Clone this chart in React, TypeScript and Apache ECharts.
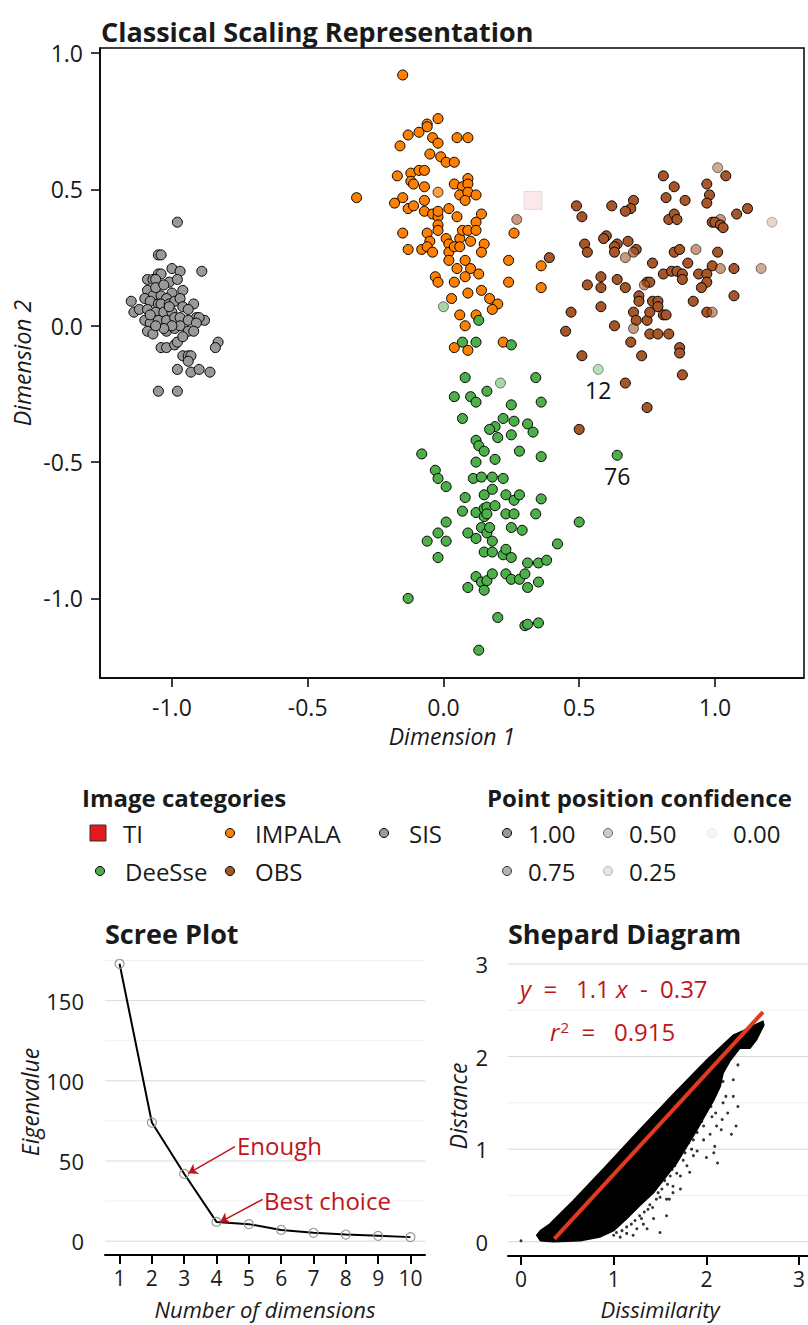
import React, { useEffect, useRef } from "react";
import * as echarts from "echarts";

const FONT = "'Open Sans', 'Noto Sans', 'DejaVu Sans', sans-serif";
const TXT = "#1a1a1a";
const RED_TXT = "#c0141c";

// ---------- Classical scaling: [dim1, dim2, confidence] ----------
const tiPoints: number[][] = [[0.33, 0.46, 0.1]];

const sisPoints: number[][] = [
  [-1.05, 0.26, 1], [-1.04, 0.26, 1], [-1.0, 0.21, 1], [-0.97, 0.2, 1], [-0.89, 0.2, 1], [-1.05, 0.19, 1],
  [-1.04, 0.19, 1], [-1.09, 0.17, 1], [-1.07, 0.17, 1], [-1.06, 0.17, 1], [-1.01, 0.16, 1], [-0.98, 0.17, 1],
  [-0.96, 0.13, 1], [-1.09, 0.13, 1], [-1.07, 0.11, 1], [-1.04, 0.11, 1], [-1.0, 0.12, 1], [-1.02, 0.1, 1],
  [-1.15, 0.09, 1], [-1.1, 0.1, 1], [-1.08, 0.09, 1], [-1.05, 0.08, 1], [-1.04, 0.08, 1], [-1.01, 0.08, 1],
  [-0.99, 0.09, 1], [-0.97, 0.1, 1], [-0.92, 0.08, 1], [-1.14, 0.05, 1], [-1.12, 0.06, 1], [-1.09, 0.06, 1],
  [-1.06, 0.05, 1], [-1.03, 0.05, 1], [-1.0, 0.05, 1], [-0.96, 0.07, 1], [-0.94, 0.06, 1], [-0.91, 0.03, 1],
  [-0.88, 0.02, 1], [-0.9, 0.03, 1], [-1.1, 0.02, 1], [-1.08, 0.01, 1], [-1.05, 0.02, 1], [-1.02, 0.02, 1],
  [-0.99, 0.03, 1], [-0.97, 0.03, 1], [-0.94, 0.02, 1], [-0.91, 0.01, 1], [-1.09, -0.02, 1], [-1.07, -0.03, 1],
  [-1.02, -0.02, 1], [-0.99, -0.01, 1], [-0.97, 0.0, 1], [-0.94, -0.02, 1], [-0.92, -0.02, 1], [-1.04, -0.08, 1],
  [-1.02, -0.08, 1], [-0.99, -0.07, 1], [-0.98, -0.06, 1], [-0.96, -0.11, 1], [-0.94, -0.11, 1], [-0.93, -0.11, 1],
  [-0.94, -0.13, 1], [-0.83, -0.06, 1], [-0.84, -0.08, 1], [-0.98, -0.16, 1], [-0.93, -0.17, 1], [-0.9, -0.16, 1],
  [-0.86, -0.17, 1], [-1.05, -0.24, 1], [-0.98, -0.24, 1], [-0.98, 0.38, 1], [-1.06, 0.14, 1], [-1.03, 0.15, 1],
  [-1.01, 0.07, 1], [-1.0, 0.0, 1], [-1.03, -0.01, 1], [-0.96, -0.04, 1], [-1.06, 0.0, 1], [-1.08, 0.04, 1],
];

const impalaPoints: number[][] = [
  [-0.15, 0.92, 1], [-0.06, 0.74, 1], [-0.06, 0.73, 1], [-0.02, 0.76, 1], [-0.09, 0.71, 1], [-0.13, 0.7, 1],
  [-0.16, 0.66, 1], [-0.04, 0.69, 1], [-0.02, 0.67, 1], [0.05, 0.69, 1], [0.09, 0.69, 1], [-0.05, 0.63, 1],
  [-0.01, 0.62, 1], [0.01, 0.6, 1], [0.04, 0.6, 1], [-0.17, 0.55, 1], [-0.12, 0.56, 1], [-0.09, 0.57, 1],
  [-0.07, 0.57, 1], [-0.12, 0.53, 1], [-0.11, 0.52, 1], [-0.07, 0.51, 1], [-0.02, 0.49, 0.75], [0.04, 0.52, 1],
  [0.07, 0.51, 1], [0.09, 0.54, 1], [0.09, 0.52, 1], [0.06, 0.48, 1], [0.09, 0.49, 1], [0.12, 0.48, 1],
  [0.08, 0.46, 1], [-0.18, 0.45, 1], [-0.15, 0.47, 1], [-0.13, 0.43, 1], [-0.11, 0.44, 1], [-0.07, 0.46, 1],
  [-0.07, 0.42, 1], [-0.04, 0.41, 1], [-0.02, 0.4, 1], [-0.02, 0.42, 1], [0.02, 0.43, 1], [0.05, 0.4, 1],
  [0.14, 0.41, 1], [-0.02, 0.37, 1], [-0.02, 0.35, 1], [0.01, 0.32, 1], [0.02, 0.3, 1], [0.06, 0.32, 1],
  [0.07, 0.35, 1], [0.09, 0.35, 1], [0.12, 0.38, 1], [0.12, 0.35, 1], [0.1, 0.31, 1], [0.15, 0.3, 1],
  [0.14, 0.27, 1], [-0.15, 0.34, 1], [-0.06, 0.34, 1], [-0.05, 0.31, 1], [-0.13, 0.28, 1], [-0.08, 0.28, 1],
  [-0.06, 0.29, 1], [-0.04, 0.27, 1], [0.02, 0.27, 1], [0.04, 0.29, 1], [0.06, 0.29, 1], [0.02, 0.24, 1],
  [0.08, 0.24, 1], [0.05, 0.21, 1], [0.1, 0.21, 1], [0.13, 0.19, 1], [-0.03, 0.18, 1], [-0.02, 0.16, 1],
  [0.04, 0.16, 1], [0.08, 0.18, 1], [0.24, 0.24, 1], [0.24, 0.16, 1], [0.26, 0.34, 1], [0.36, 0.22, 1],
  [0.36, 0.14, 1], [0.03, 0.1, 1], [0.09, 0.12, 1], [0.14, 0.13, 1], [0.17, 0.1, 1], [0.2, 0.08, 1],
  [0.18, 0.06, 1], [0.06, 0.04, 1], [0.12, 0.04, 1], [0.08, 0.0, 1], [0.04, -0.08, 1], [0.09, -0.09, 1],
  [0.22, -0.06, 1], [-0.32, 0.47, 1],
];

const obsPoints: number[][] = [
  [1.01, 0.58, 0.5], [1.04, 0.55, 1], [0.81, 0.55, 1], [0.85, 0.51, 1], [0.97, 0.52, 1], [0.98, 0.48, 1],
  [0.82, 0.47, 1], [0.89, 0.46, 1], [0.97, 0.45, 1], [1.12, 0.43, 1], [1.08, 0.41, 1], [1.21, 0.38, 0.25],
  [0.7, 0.46, 1], [0.69, 0.43, 1], [0.67, 0.42, 1], [0.62, 0.44, 1], [0.49, 0.44, 1], [0.51, 0.4, 1],
  [0.83, 0.39, 1], [0.85, 0.41, 1], [0.86, 0.39, 1], [0.99, 0.38, 1], [1.02, 0.39, 0.6], [1.0, 0.38, 1],
  [1.02, 0.37, 1], [1.03, 0.36, 1], [0.6, 0.33, 1], [0.59, 0.32, 1], [0.64, 0.3, 1], [0.68, 0.31, 1],
  [0.63, 0.29, 1], [0.63, 0.27, 1], [0.71, 0.28, 1], [0.7, 0.27, 0.7], [0.52, 0.3, 1], [0.53, 0.27, 1],
  [0.39, 0.25, 1], [0.27, 0.39, 0.6], [0.67, 0.25, 0.6], [0.77, 0.23, 1], [0.85, 0.27, 1], [0.87, 0.28, 1],
  [0.93, 0.28, 0.6], [1.01, 0.27, 1], [0.9, 0.23, 1], [0.99, 0.22, 1], [1.02, 0.21, 0.6], [1.07, 0.21, 1],
  [1.17, 0.21, 0.5], [0.58, 0.18, 1], [0.58, 0.14, 1], [0.53, 0.15, 1], [0.64, 0.17, 1], [0.67, 0.14, 1],
  [0.75, 0.16, 1], [0.76, 0.16, 1], [0.74, 0.15, 0.6], [0.81, 0.19, 1], [0.84, 0.2, 1], [0.86, 0.2, 1],
  [0.88, 0.19, 1], [0.88, 0.17, 1], [0.94, 0.19, 1], [0.97, 0.19, 1], [0.97, 0.16, 1], [0.95, 0.14, 1],
  [1.07, 0.11, 1], [0.92, 0.09, 1], [0.97, 0.05, 1], [0.99, 0.05, 0.6], [0.58, 0.07, 1], [0.47, 0.05, 1],
  [0.45, -0.02, 1], [0.63, 0.0, 1], [0.72, 0.11, 1], [0.72, 0.09, 1], [0.7, 0.05, 1], [0.71, 0.02, 1],
  [0.75, 0.02, 1], [0.76, 0.05, 1], [0.77, 0.09, 1], [0.79, 0.09, 1], [0.79, 0.07, 1], [0.81, 0.04, 1],
  [0.82, 0.04, 1], [0.7, -0.01, 0.6], [0.76, -0.03, 1], [0.79, -0.03, 1], [0.83, -0.03, 1], [0.69, -0.06, 1],
  [0.73, -0.11, 1], [0.51, -0.11, 1], [0.87, -0.08, 1], [0.87, -0.1, 1], [0.88, -0.18, 1], [0.67, -0.21, 1],
  [0.75, -0.3, 1], [0.5, -0.38, 1],
];

const deessePoints: number[][] = [
  [0.0, 0.07, 0.5], [0.13, 0.02, 1], [0.07, -0.06, 1], [0.12, -0.06, 1], [0.25, -0.07, 1], [0.57, -0.16, 0.4],
  [0.08, -0.19, 1], [0.21, -0.21, 0.5], [0.34, -0.19, 1], [0.16, -0.24, 1], [0.04, -0.26, 1], [0.1, -0.26, 1],
  [0.12, -0.28, 1], [0.25, -0.29, 1], [0.36, -0.28, 1], [0.07, -0.34, 1], [0.22, -0.34, 1], [0.26, -0.35, 1],
  [0.31, -0.36, 1], [0.33, -0.39, 1], [0.19, -0.37, 1], [0.17, -0.38, 1], [0.25, -0.4, 1], [0.2, -0.41, 1],
  [0.12, -0.42, 1], [0.13, -0.44, 1], [0.15, -0.46, 1], [0.28, -0.46, 1], [0.19, -0.49, 1], [0.12, -0.5, 1],
  [0.36, -0.48, 1], [-0.08, -0.47, 1], [0.64, -0.475, 1], [-0.03, -0.53, 1], [-0.02, -0.56, 1], [0.01, -0.59, 1],
  [0.11, -0.56, 1], [0.14, -0.555, 1], [0.18, -0.555, 1], [0.22, -0.56, 1], [0.08, -0.63, 1], [0.15, -0.62, 1],
  [0.18, -0.6, 1], [0.23, -0.62, 1], [0.26, -0.64, 1], [0.28, -0.62, 1], [0.36, -0.635, 1], [0.07, -0.68, 1],
  [0.12, -0.685, 1], [0.15, -0.67, 1], [0.16, -0.665, 1], [0.15, -0.7, 1], [0.16, -0.69, 1], [0.19, -0.66, 1],
  [0.23, -0.69, 1], [0.26, -0.69, 1], [0.34, -0.69, 1], [0.5, -0.72, 1], [0.01, -0.72, 1], [-0.02, -0.76, 1],
  [-0.06, -0.79, 1], [0.01, -0.79, 1], [0.09, -0.76, 1], [0.12, -0.78, 1], [0.14, -0.74, 1], [0.16, -0.76, 1],
  [0.17, -0.74, 1], [0.18, -0.79, 1], [0.25, -0.74, 1], [0.29, -0.75, 1], [0.42, -0.8, 1], [-0.02, -0.85, 1],
  [0.15, -0.83, 1], [0.18, -0.83, 1], [0.22, -0.84, 1], [0.23, -0.82, 1], [0.25, -0.85, 1], [0.31, -0.87, 1],
  [0.35, -0.87, 1], [0.38, -0.86, 1], [0.12, -0.92, 1], [0.14, -0.94, 1], [0.16, -0.935, 1], [0.18, -0.91, 1],
  [0.23, -0.91, 1], [0.25, -0.93, 1], [0.28, -0.93, 1], [0.3, -0.91, 1], [0.09, -0.96, 1], [0.15, -0.97, 1],
  [0.31, -0.96, 1], [0.35, -0.94, 1], [-0.13, -1.0, 1], [0.2, -1.07, 1], [0.3, -1.1, 1], [0.31, -1.095, 1],
  [0.35, -1.09, 1], [0.13, -1.19, 1],
];

const pointLabels = [
  { label: "12", x: 0.57, y: -0.16 },
  { label: "76", x: 0.64, y: -0.475 },
];

const mainTicks = [-1, -0.5, 0, 0.5, 1];

// ---------- Scree plot ----------
const screeDims = [1, 2, 3, 4, 5, 6, 7, 8, 9, 10];
const screeEigen = [173, 74, 42, 12, 10.6, 7, 5.2, 4.1, 3.3, 2.5];
const screeMajor = [0, 50, 100, 150];
const screeMinor = [25, 75, 125, 175];
const screeNotes = [
  { text: "Enough", from: [4.57, 58.9], to: [3.13, 42.3] },
  { text: "Best choice", from: [5.43, 26.1], to: [4.11, 11.9] },
];

// ---------- Shepard diagram ----------
const shepardCloud: number[][] = [
  [0.17, 0.07], [0.21, 0.12], [0.31, 0.19], [0.56, 0.44], [0.92, 0.82], [1.28, 1.21], [1.64, 1.59], [2.0, 1.96],
  [2.29, 2.23], [2.4, 2.28], [2.54, 2.35], [2.61, 2.38], [2.62, 2.34], [2.54, 2.18], [2.47, 2.09], [2.36, 2.09],
  [2.26, 1.96], [2.18, 1.82], [2.15, 1.68], [2.08, 1.53], [2.0, 1.39], [1.9, 1.21], [1.79, 1.03], [1.68, 0.85],
  [1.57, 0.71], [1.43, 0.53], [1.28, 0.39], [1.14, 0.25], [1.0, 0.12], [0.85, 0.05], [0.64, 0.01], [0.35, 0.0],
  [0.21, 0.01],
];
const shepardOutliers: number[][] = [
  [0.0, 0.01], [2.34, 1.91], [2.29, 1.75], [2.21, 1.57], [2.18, 1.73], [2.34, 1.46], [2.32, 1.25], [2.27, 1.16],
  [2.12, 0.85], [2.09, 1.03], [2.0, 0.91], [2.04, 1.16], [1.9, 0.98], [1.79, 0.82], [1.72, 0.71], [1.64, 0.6],
  [1.57, 0.46], [1.5, 0.1], [1.43, 0.25], [1.32, 0.19], [1.25, 0.14], [1.14, 0.09], [1.07, 0.05], [2.23, 1.39],
  [2.17, 1.32], [2.11, 1.25], [2.29, 1.57], [2.06, 1.35], [1.97, 1.1], [1.86, 0.93], [2.38, 2.21],
  [1.86, 1.1], [1.77, 0.96], [1.66, 0.82], [1.61, 0.71], [1.52, 0.57], [1.46, 0.46], [1.37, 0.35], [1.28, 0.28],
  [1.19, 0.19], [1.09, 0.12], [1.0, 0.07], [1.93, 1.35], [2.0, 1.53], [2.08, 1.68], [2.15, 1.82], [2.22, 1.93],
  [2.05, 1.46], [1.9, 1.18], [1.81, 1.07], [1.72, 0.93], [1.63, 0.78], [1.55, 0.66], [1.48, 0.53], [1.39, 0.4],
  [1.33, 0.32], [1.23, 0.23], [1.14, 0.16], [1.03, 0.1], [1.97, 1.25], [2.1, 1.39], [2.18, 1.5], [2.16, 1.21],
  [2.08, 0.96], [1.6, 0.46], [1.64, 0.53], [1.72, 0.57], [1.82, 0.75], [1.57, 0.28], [1.36, 0.14], [1.21, 0.07],
  [1.95, 1.3], [1.84, 1.0], [1.75, 0.88], [1.68, 0.74], [1.58, 0.62], [1.5, 0.48], [1.42, 0.37], [1.3, 0.25],
];
const fitLine: number[][] = [[0.36, 0.03], [2.61, 2.48]];
const shepardMajor = [0, 1, 2, 3];
const shepardMinor = [0.5, 1.5, 2.5];

// ---------- Legends ----------
const categoryColors: Record<string, string> = {
  TI: "#E41A1C", IMPALA: "#FF7F00", SIS: "#999999", DeeSse: "#4DAF4A", OBS: "#A65628",
};
const confidenceLevels = [
  { label: "1.00", alpha: 1 }, { label: "0.50", alpha: 0.5 }, { label: "0.00", alpha: 0.08 },
  { label: "0.75", alpha: 0.75 }, { label: "0.25", alpha: 0.25 },
];

function text(t: string, x: number, y: number, o: any = {}) {
  const align = o.align || "left";
  return {
    type: "text", x, y, rotation: o.rot || 0, silent: true, z: 50,
    style: {
      text: t, fontSize: o.size || 24, fontFamily: FONT,
      fontWeight: o.bold ? "bold" : "normal", fontStyle: o.italic ? "italic" : "normal",
      fill: o.color || TXT, align, textAlign: align, verticalAlign: "middle", textVerticalAlign: "middle",
      rich: o.rich,
    },
  };
}

function scatterSeries(pts: number[][], color: string, z: number, symbol = "circle", size = 10) {
  return {
    type: "scatter", xAxisIndex: 0, yAxisIndex: 0, symbol, symbolSize: size, z, silent: true,
    itemStyle: { color, borderColor: "#000", borderWidth: 1 },
    data: pts.map((p) => ({ value: [p[0], p[1]], itemStyle: { opacity: p[2] } })),
  };
}

function gridLines(idx: number, values: number[], color: string) {
  return {
    type: "custom", xAxisIndex: idx, yAxisIndex: idx, z: 0, silent: true, clip: false,
    data: values.map((v) => [1, v]), encode: { x: 0, y: 1 },
    renderItem: (params: any, api: any) => {
      const cs = params.coordSys;
      const p = api.coord([api.value(0), api.value(1)]);
      return {
        type: "line",
        shape: { x1: cs.x, y1: p[1], x2: cs.x + cs.width, y2: p[1] },
        style: { stroke: color, lineWidth: 1 },
      };
    },
  };
}

function valueAxis(idx: number, min: number, max: number, ticks: number[], o: any) {
  return {
    type: "value", gridIndex: idx, min, max,
    axisLine: { show: o.line, onZero: false, lineStyle: { color: "#000", width: o.lineWidth || 1.5 } },
    axisTick: { show: o.tick, length: o.tickLen || 9, customValues: ticks, lineStyle: { color: "#000", width: o.lineWidth || 1.5 } },
    axisLabel: {
      customValues: ticks, formatter: o.fmt || ((v: number) => String(v)),
      fontSize: o.fontSize || 23, fontFamily: FONT, color: TXT, margin: o.margin,
    },
    splitLine: { show: false },
    minorSplitLine: { show: false },
  };
}

function buildOption() {
  const graphic: any[] = [];
  // Titles
  graphic.push(text("Classical Scaling Representation", 101, 31, { bold: true, size: 27 }));
  graphic.push(text("Scree Plot", 105, 933, { bold: true, size: 27 }));
  graphic.push(text("Shepard Diagram", 508, 933, { bold: true, size: 27 }));
  // Axis titles
  graphic.push(text("Dimension 1", 452, 736, { italic: true, align: "center", size: 23 }));
  graphic.push(text("Dimension 2", 22, 363, { italic: true, align: "center", rot: Math.PI / 2, size: 23 }));
  graphic.push(text("Number of dimensions", 265, 1309, { italic: true, align: "center", size: 22 }));
  graphic.push(text("Eigenvalue", 30, 1102, { italic: true, align: "center", rot: Math.PI / 2, size: 23 }));
  graphic.push(text("Dissimilarity", 660, 1309, { italic: true, align: "center", size: 22 }));
  graphic.push(text("Distance", 458, 1106, { italic: true, align: "center", rot: Math.PI / 2, size: 23 }));

  // Scree annotations text
  graphic.push(text(screeNotes[0].text, 237, 1145, { color: RED_TXT }));
  graphic.push(text(screeNotes[1].text, 264, 1200, { color: RED_TXT }));

  // Shepard equation
  const eqRich = {
    i: { fontStyle: "italic", fontSize: 24, fontFamily: FONT, fill: RED_TXT, color: RED_TXT },
    n: { fontSize: 24, fontFamily: FONT, fill: RED_TXT, color: RED_TXT },
    s: { fontSize: 15, fontFamily: FONT, fill: RED_TXT, color: RED_TXT, verticalAlign: "top", padding: [0, 0, 8, 1] },
  };
  graphic.push(text("{i|y}{n|  =   1.1 }{i|x}{n|  -  0.37}", 520, 988, { color: RED_TXT, rich: eqRich }));
  graphic.push(text("{i|r}{s|2}{n|  =   0.915}", 550, 1031, { color: RED_TXT, rich: eqRich }));

  // Legend: Image categories
  graphic.push(text("Image categories", 82, 797, { bold: true, size: 24 }));
  const catLayout = [
    { name: "TI", kx: 98, ty: 833 }, { name: "IMPALA", kx: 230, ty: 833 }, { name: "SIS", kx: 384, ty: 833 },
    { name: "DeeSse", kx: 100, ty: 871 }, { name: "OBS", kx: 230, ty: 871 },
  ];
  catLayout.forEach((c) => {
    if (c.name === "TI") {
      graphic.push({
        type: "rect", silent: true, z: 50, shape: { x: c.kx - 8, y: c.ty - 8, width: 16, height: 16 },
        style: { fill: categoryColors.TI, stroke: "#333", lineWidth: 1 },
      });
    } else {
      graphic.push({
        type: "circle", silent: true, z: 50, shape: { cx: c.kx, cy: c.ty, r: 4.5 },
        style: { fill: categoryColors[c.name], stroke: "#000", lineWidth: 1 },
      });
    }
    graphic.push(text(c.name, c.kx + 25, c.ty));
  });

  // Legend: confidence
  graphic.push(text("Point position confidence", 487, 797, { bold: true, size: 24 }));
  const confPos = [[507, 833], [608, 833], [712, 833], [507, 871], [608, 871]];
  confidenceLevels.forEach((c, i) => {
    const [x, y] = confPos[i];
    graphic.push({
      type: "circle", silent: true, z: 50, shape: { cx: x, cy: y, r: 4.5 },
      style: { fill: "#999999", stroke: "#000", lineWidth: 1, opacity: c.alpha },
    });
    graphic.push(text(c.label, x + 21, y));
  });

  const series: any[] = [
    scatterSeries(sisPoints, categoryColors.SIS, 3),
    scatterSeries(impalaPoints, categoryColors.IMPALA, 3),
    scatterSeries(obsPoints, categoryColors.OBS, 3),
    scatterSeries(deessePoints, categoryColors.DeeSse, 3),
    scatterSeries(tiPoints, categoryColors.TI, 4, "rect", 18),
    {
      type: "scatter", xAxisIndex: 0, yAxisIndex: 0, symbolSize: 1, z: 6, silent: true,
      itemStyle: { color: "rgba(0,0,0,0)", opacity: 1 },
      data: pointLabels.map((p) => ({ value: [p.x, p.y], name: p.label })),
      label: {
        show: true, position: "bottom", distance: 9, formatter: (p: any) => p.name,
        fontSize: 23, fontFamily: FONT, color: "#111111", opacity: 1, textBorderWidth: 0,
      },
    },
    // Scree
    gridLines(1, screeMinor, "#eeeeee"),
    gridLines(1, screeMajor, "#d9d9d9"),
    {
      type: "line", xAxisIndex: 1, yAxisIndex: 1, z: 3, silent: true,
      data: screeDims.map((d, i) => [d, screeEigen[i]]),
      lineStyle: { color: "#000", width: 2 },
      symbol: "circle", symbolSize: 9, showSymbol: true,
      itemStyle: { color: "rgba(255,255,255,0)", borderColor: "#999999", borderWidth: 1.2 },
      markLine: {
        silent: true, symbol: ["none", "arrow"], symbolSize: 9,
        label: { show: false },
        lineStyle: { color: RED_TXT, width: 1.5, type: "solid" },
        data: screeNotes.map((n) => [{ coord: n.from }, { coord: n.to }]),
      },
    },
    // Shepard
    gridLines(2, shepardMinor, "#eeeeee"),
    gridLines(2, shepardMajor, "#d9d9d9"),
    {
      type: "custom", xAxisIndex: 2, yAxisIndex: 2, z: 2, silent: true,
      data: [[1, 1]], encode: { x: 0, y: 1 },
      renderItem: (_params: any, api: any) => ({
        type: "polygon",
        shape: { points: shepardCloud.map((p) => api.coord(p)) },
        style: { fill: "#000", stroke: "#000", lineWidth: 1.5 },
      }),
    },
    {
      type: "scatter", xAxisIndex: 2, yAxisIndex: 2, z: 2, silent: true, symbolSize: 3,
      itemStyle: { color: "#000" }, data: shepardOutliers,
    },
    {
      type: "line", xAxisIndex: 2, yAxisIndex: 2, z: 4, silent: true, symbol: "none",
      lineStyle: { color: "#E2391F", width: 4 }, data: fitLine,
    },
  ];

  return {
    animation: false,
    backgroundColor: "#ffffff",
    grid: [
      { left: 100, top: 48, width: 704, height: 630, show: true, borderColor: "#000", borderWidth: 1.5, outerBoundsMode: "none", containLabel: false },
      { left: 105, top: 950, width: 320, height: 305, outerBoundsMode: "none", containLabel: false },
      { left: 508, top: 957, width: 300, height: 299, outerBoundsMode: "none", containLabel: false },
    ],
    xAxis: [
      valueAxis(0, -1.265, 1.328, mainTicks, { line: true, tick: true, margin: 17, fmt: (v: number) => v.toFixed(1) }),
      valueAxis(1, 0.55, 10.45, screeDims, { line: true, tick: true, margin: 12, lineWidth: 2, tickLen: 9, fontSize: 21 }),
      valueAxis(2, -0.14, 3.096, shepardMajor, { line: true, tick: true, margin: 12, lineWidth: 2, tickLen: 9, fontSize: 21 }),
    ],
    yAxis: [
      valueAxis(0, -1.292, 1.019, mainTicks, { line: true, tick: true, margin: 17, fmt: (v: number) => v.toFixed(1) }),
      valueAxis(1, -8.65, 181.6, screeMajor, { line: false, tick: false, margin: 21, fontSize: 22 }),
      valueAxis(2, -0.154, 3.075, shepardMajor, { line: false, tick: false, margin: 20, fontSize: 22 }),
    ],
    series,
    graphic,
  };
}

export default function App() {
  const ref = useRef<HTMLDivElement>(null);
  useEffect(() => {
    document.body.style.margin = "0";
    const chart = echarts.init(ref.current!, null, { renderer: "svg" });
    chart.setOption(buildOption() as any);
    return () => chart.dispose();
  }, []);
  return <div ref={ref} style={{ width: 808, height: 1325 }} />;
}
